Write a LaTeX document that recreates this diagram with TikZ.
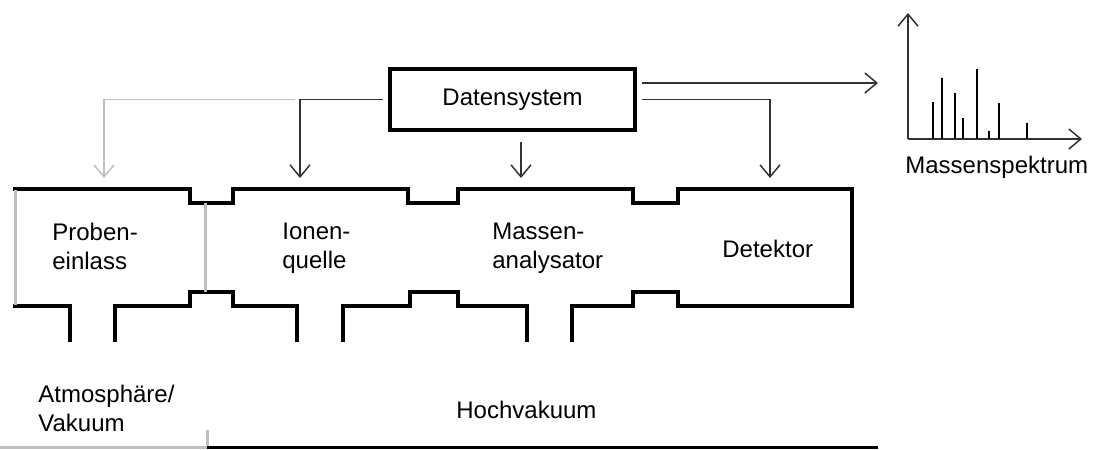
\documentclass[tikz,border=0pt]{standalone}
\usepackage{fontspec}
\setmainfont{Liberation Sans}
\usetikzlibrary{arrows.meta,positioning}

\begin{document}
\begin{tikzpicture}[x=0.5pt,y=-0.5pt,
    wall/.style={line width=2pt},
    grey wall/.style={line width=1.5pt,black!25},
    sig/.style={line width=0.75pt,black!80,-{Straight Barb[length=6pt,width=10pt]}},
    lab/.style={font=\fontsize{12}{14.5}\selectfont,inner sep=0pt,align=left}]
  \useasboundingbox (0,0) rectangle (1094,450);
  % Datensystem
  \node[lab,draw,line width=2pt,minimum width=122.5pt,minimum height=30.5pt] (daten) at (512.5,99.5) {Datensystem};
  % Gehaeuse
  \draw[wall] (13,189) -- (190,189) -- (190,203) -- (233,203) -- (233,189) -- (408,189) -- (408,203) -- (458,203) -- (458,189)
     -- (633,189) -- (633,203) -- (678,203) -- (678,189) -- (852,189) -- (852,306) -- (678,306) -- (678,292) -- (633,292)
     -- (633,306) -- (572,306) -- (572,342);
  \draw[wall] (13,306) -- (70,306) -- (70,342);
  \draw[wall] (115,342) -- (115,306) -- (190,306) -- (190,292) -- (233,292) -- (233,306) -- (297,306) -- (297,342);
  \draw[wall] (343,342) -- (343,306) -- (410,306) -- (410,292) -- (458,292) -- (458,306) -- (527,306) -- (527,342);
  \draw[grey wall] (15,190) -- (15,305);
  \draw[grey wall] (205,203) -- (205,292);
  % Beschriftung
  \node[lab,anchor=north west] (proben) at (52,223) {Proben-\\einlass};
  \node[lab,anchor=north west] (ionen) at (282,223) {Ionen-\\quelle};
  \node[lab,anchor=north west] (analys) at (492,223) {Massen-\\analysator};
  \node[lab,anchor=base west] (detektor) at (722,257) {Detektor};
  \node[lab,anchor=north west] (atmo) at (38,385) {Atmosphäre/\\Vakuum};
  \node[lab,anchor=base west] (hoch) at (456,418) {Hochvakuum};
  % Signale
  \coordinate (proben in) at (104,178);
  \coordinate (ionen in) at (300,178);
  \coordinate (analys in) at (521,178);
  \coordinate (det in) at (770,178);
  \coordinate (spek in) at (878,83);
  \draw[sig,black!25] ([xshift=-2.5pt]daten.west -| ionen in) -| (proben in);
  \draw[sig] ([xshift=-2.5pt]daten.west) -| (ionen in);
  \draw[sig] ([yshift=-5pt]daten.south -| analys in) -- (analys in);
  \draw[sig] ([xshift=2.5pt]daten.east) -| (det in);
  \draw[sig] ([xshift=2.5pt]daten.east |- spek in) -- (spek in);
  % Massenspektrum
  \coordinate (ursprung) at (908,139);
  \draw[sig] (ursprung) -- (908,13);
  \draw[sig] (ursprung) -- (1082,139);
  \foreach \x/\h in {933/102,942/78,955/93,963/118,977/69,989/131,999/103,1027/123}
    \draw[line width=0.75pt] (\x,139) -- (\x,\h);
  \node[lab,anchor=base west] (spektrum) at (905,173) {Massenspektrum};
  % Druckbereiche
  \draw[grey wall] (0,447) -- (207,447) -- (207,430);
  \draw[line width=1.5pt] (207,447) -- (878,447);
\end{tikzpicture}
\end{document}
